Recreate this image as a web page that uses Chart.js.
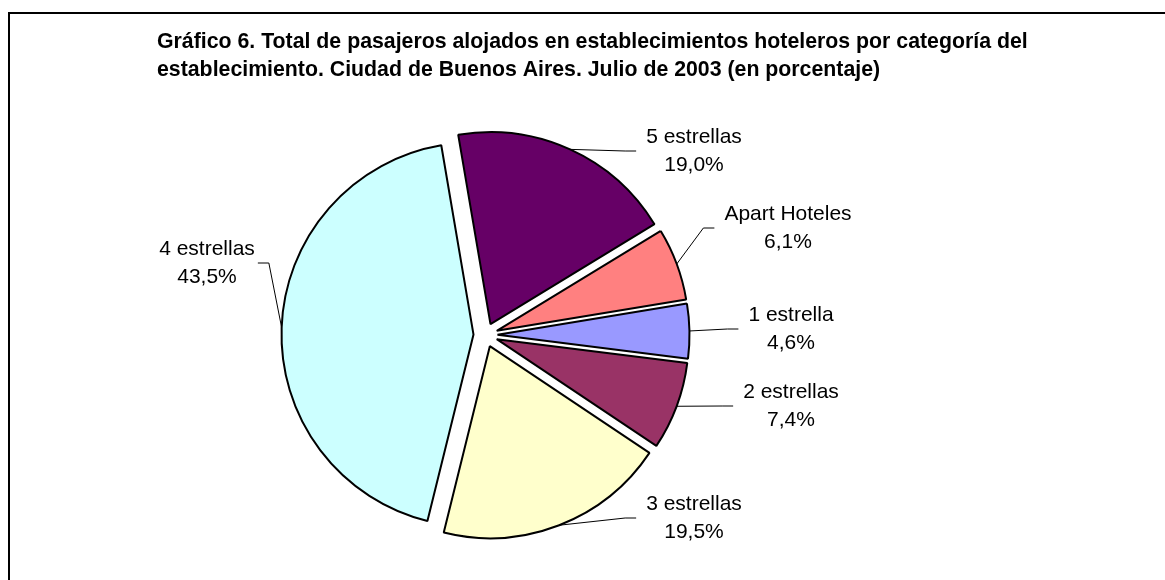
<!DOCTYPE html>
<html>
<head>
<meta charset="utf-8">
<title>Gráfico 6 - Pasajeros por categoría</title>
<script src="https://cdn.jsdelivr.net/npm/chart.js@4.4.1/dist/chart.umd.min.js"></script>
<style>
  html, body { margin: 0; padding: 0; background: #fff; }
  #wrap { width: 1165px; height: 580px; }
</style>
</head>
<body>
<div id="wrap"><canvas id="pieChart" width="1165" height="580"></canvas></div>
<script>
/* =========================
   Data
========================= */
const titleLines = [
  "Gráfico 6. Total de pasajeros alojados en establecimientos hoteleros por categoría del",
  "establecimiento. Ciudad de Buenos Aires. Julio de 2003 (en porcentaje)",
];
const categories = ["1 estrella", "2 estrellas", "3 estrellas", "4 estrellas", "5 estrellas", "Apart Hoteles"];
const percentages = [4.6, 7.4, 19.5, 43.5, 19.0, 6.1];
const sliceColors = ["#9999FF", "#993366", "#FFFFCC", "#CCFFFF", "#660066", "#FF8080"];

/* =========================
   Layout (label boxes were dragged by hand in the original)
========================= */
const labelSpots = [
  [791, 329], [791, 406], [694, 518], [207, 263], [694, 151], [788, 228],
];
const EXPLODE = 12;      // separación de los sectores
const FONT = "'Liberation Sans', Arial, sans-serif";

function fmtPct(v) {
  return v.toFixed(1).replace(".", ",") + "%";
}

/* frame + title */
const framePlugin = {
  id: "frame",
  beforeDraw(chart) {
    const ctx = chart.ctx;
    ctx.save();
    ctx.fillStyle = "#fff";
    ctx.fillRect(0, 0, chart.width, chart.height);
    ctx.strokeStyle = "#000";
    ctx.lineWidth = 2;
    ctx.strokeRect(9, 13, chart.width + 20, chart.height + 20);
    ctx.fillStyle = "#000";
    ctx.font = "bold 21.3px " + FONT;
    ctx.textAlign = "left";
    ctx.textBaseline = "alphabetic";
    ctx.fillText(titleLines[0], 157, 48);
    ctx.fillText(titleLines[1], 157, 75.5);
    ctx.restore();
  },
};

/* exploded pie: every arc pushed out along its mid angle */
const explodePlugin = {
  id: "explode",
  beforeDatasetDraw(chart, args) {
    const ctx = chart.ctx;
    args.meta.data.forEach(arc => {
      const mid = (arc.startAngle + arc.endAngle) / 2;
      ctx.save();
      ctx.translate(Math.cos(mid) * EXPLODE, Math.sin(mid) * EXPLODE);
      arc.draw(ctx);
      ctx.restore();
    });
    return false;
  },
};

/* data labels with leader lines */
const labelsPlugin = {
  id: "sliceLabels",
  afterDatasetsDraw(chart) {
    const ctx = chart.ctx;
    const meta = chart.getDatasetMeta(0);
    ctx.save();
    ctx.font = "21px " + FONT;
    ctx.textAlign = "center";
    ctx.textBaseline = "middle";
    ctx.fillStyle = "#000";
    ctx.strokeStyle = "#000";
    ctx.lineWidth = 1;
    meta.data.forEach((arc, i) => {
      const mid = (arc.startAngle + arc.endAngle) / 2;
      const rr = arc.outerRadius + EXPLODE;
      const px = arc.x + Math.cos(mid) * rr;
      const py = arc.y + Math.sin(mid) * rr;
      const [lx, ly] = labelSpots[i];
      const name = categories[i];
      const pct = fmtPct(percentages[i]);
      const w = Math.max(ctx.measureText(name).width, ctx.measureText(pct).width);
      const toRight = lx > px;
      const ax = toRight ? lx - w / 2 - 10 : lx + w / 2 + 3;
      const ex = toRight ? ax - 11 : ax + 11;
      ctx.beginPath();
      ctx.moveTo(px, py);
      ctx.lineTo(ex, ly);
      ctx.lineTo(ax, ly);
      ctx.stroke();
      ctx.fillText(name, lx, ly - 14);
      ctx.fillText(pct, lx, ly + 14);
    });
    ctx.restore();
  },
};

new Chart(document.getElementById("pieChart"), {
  type: "pie",
  data: {
    labels: categories,
    datasets: [{
      data: percentages,
      backgroundColor: sliceColors,
      borderColor: "#000",
      borderWidth: 2,
    }],
  },
  options: {
    responsive: false,
    animation: false,
    rotation: 80.6,
    radius: 192,
    layout: { padding: { left: 20, right: 214, top: 120, bottom: 30 } },
    plugins: {
      legend: { display: false },
      tooltip: { enabled: false },
      title: { display: false },
    },
  },
  plugins: [framePlugin, explodePlugin, labelsPlugin],
});
</script>
</body>
</html>
